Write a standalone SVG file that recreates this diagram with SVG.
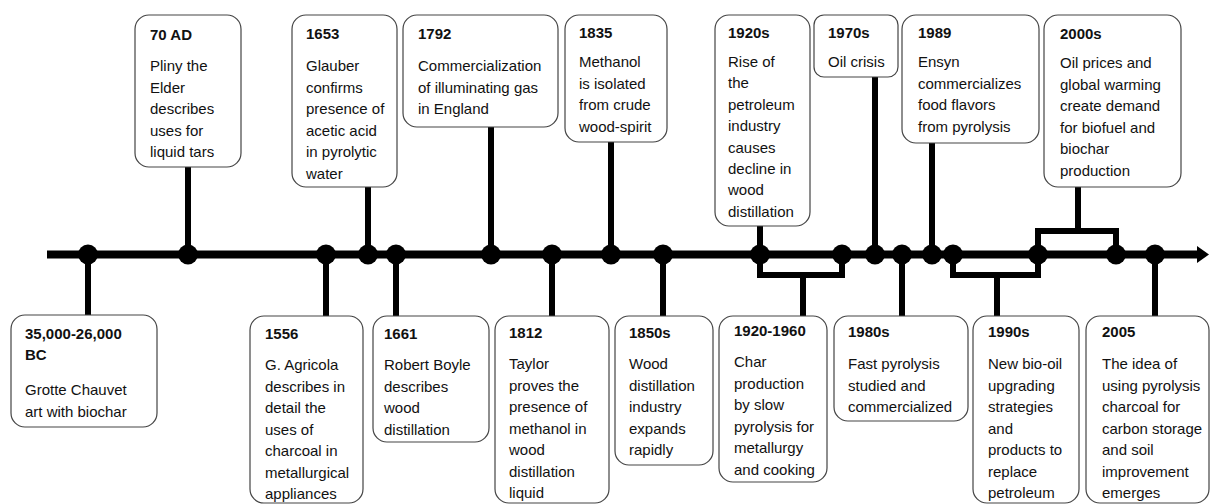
<svg xmlns="http://www.w3.org/2000/svg" width="1211" height="504" viewBox="0 0 1211 504">
<style>
.box{fill:#fff;stroke:#444;stroke-width:1.2}
.t{font-family:"Liberation Sans",Arial,sans-serif;font-size:15px;font-weight:bold;fill:#111}
.b{font-family:"Liberation Sans",Arial,sans-serif;font-size:15px;fill:#111}
.c{fill:none;stroke:#000;stroke-width:6;stroke-linejoin:miter}
.dot{fill:#000}
</style>
<rect width="1211" height="504" fill="#fff"/>
<g id="connectors">
  <line x1="47" y1="254.5" x2="1200" y2="254.5" stroke="#000" stroke-width="8"/>
  <polygon points="1197,246 1209,254.5 1197,263" fill="#000"/>
  <!-- top -->
  <path class="c" d="M188,167V254"/>
  <path class="c" d="M368,187V254"/>
  <path class="c" d="M491,127V254"/>
  <path class="c" d="M611,142V254"/>
  <path class="c" d="M760,226V254"/>
  <path class="c" d="M875,77V254"/>
  <path class="c" d="M932,143V254"/>
  <path class="c" d="M1078,187V231"/>
  <path class="c" d="M1038,254V231H1116V254"/>
  <!-- bottom -->
  <path class="c" d="M88,254V316"/>
  <path class="c" d="M326,254V316"/>
  <path class="c" d="M396,254V316"/>
  <path class="c" d="M552,254V316"/>
  <path class="c" d="M663,254V316"/>
  <path class="c" d="M760,254V275H842V254"/>
  <path class="c" d="M803,275V316"/>
  <path class="c" d="M902,254V316"/>
  <path class="c" d="M953,254V275H1038V254"/>
  <path class="c" d="M997,275V316"/>
  <path class="c" d="M1155,254V316"/>
  <!-- dots -->
  <circle class="dot" cx="88" cy="254.5" r="10"/>
  <circle class="dot" cx="188" cy="254.5" r="10"/>
  <circle class="dot" cx="326" cy="254.5" r="10"/>
  <circle class="dot" cx="368" cy="254.5" r="10"/>
  <circle class="dot" cx="396" cy="254.5" r="10"/>
  <circle class="dot" cx="491" cy="254.5" r="10"/>
  <circle class="dot" cx="552" cy="254.5" r="10"/>
  <circle class="dot" cx="611" cy="254.5" r="10"/>
  <circle class="dot" cx="663" cy="254.5" r="10"/>
  <circle class="dot" cx="760" cy="254.5" r="10"/>
  <circle class="dot" cx="842" cy="254.5" r="10"/>
  <circle class="dot" cx="875" cy="254.5" r="10"/>
  <circle class="dot" cx="902" cy="254.5" r="10"/>
  <circle class="dot" cx="932" cy="254.5" r="10"/>
  <circle class="dot" cx="953" cy="254.5" r="10"/>
  <circle class="dot" cx="1038" cy="254.5" r="10"/>
  <circle class="dot" cx="1116" cy="254.5" r="10"/>
  <circle class="dot" cx="1155" cy="254.5" r="10"/>
</g>
<!-- top boxes -->
<g id="n70ad">
  <rect class="box" x="135" y="15" width="106" height="152" rx="14"/>
  <text class="t" x="150" y="40">70 AD</text>
  <text class="b" x="150" y="71"><tspan x="150">Pliny the</tspan><tspan x="150" dy="21.5">Elder</tspan><tspan x="150" dy="21.5">describes</tspan><tspan x="150" dy="21.5">uses for</tspan><tspan x="150" dy="21.5">liquid tars</tspan></text>
</g>
<g id="n1653">
  <rect class="box" x="292" y="15" width="105" height="172" rx="14"/>
  <text class="t" x="306" y="39">1653</text>
  <text class="b" x="306" y="71"><tspan x="306">Glauber</tspan><tspan x="306" dy="21.5">confirms</tspan><tspan x="306" dy="21.5">presence of</tspan><tspan x="306" dy="21.5">acetic acid</tspan><tspan x="306" dy="21.5">in pyrolytic</tspan><tspan x="306" dy="21.5">water</tspan></text>
</g>
<g id="n1792">
  <rect class="box" x="403" y="15" width="155" height="112" rx="14"/>
  <text class="t" x="418" y="39">1792</text>
  <text class="b" x="418" y="71"><tspan x="418">Commercialization</tspan><tspan x="418" dy="21.5">of illuminating gas</tspan><tspan x="418" dy="21.5">in England</tspan></text>
</g>
<g id="n1835">
  <rect class="box" x="565" y="15" width="102" height="127" rx="14"/>
  <text class="t" x="579" y="38">1835</text>
  <text class="b" x="579" y="67"><tspan x="579">Methanol</tspan><tspan x="579" dy="21.5">is isolated</tspan><tspan x="579" dy="21.5">from crude</tspan><tspan x="579" dy="21.5">wood-spirit</tspan></text>
</g>
<g id="n1920s">
  <rect class="box" x="715" y="15" width="95" height="211" rx="14"/>
  <text class="t" x="728" y="38">1920s</text>
  <text class="b" x="728" y="67"><tspan x="728">Rise of</tspan><tspan x="728" dy="21.4">the</tspan><tspan x="728" dy="21.4">petroleum</tspan><tspan x="728" dy="21.4">industry</tspan><tspan x="728" dy="21.4">causes</tspan><tspan x="728" dy="21.4">decline in</tspan><tspan x="728" dy="21.4">wood</tspan><tspan x="728" dy="21.4">distillation</tspan></text>
</g>
<g id="n1970s">
  <rect class="box" x="814" y="15" width="84" height="62" rx="10"/>
  <text class="t" x="828" y="38">1970s</text>
  <text class="b" x="828" y="67">Oil crisis</text>
</g>
<g id="n1989">
  <rect class="box" x="902" y="15" width="137" height="128" rx="14"/>
  <text class="t" x="918" y="38">1989</text>
  <text class="b" x="918" y="67"><tspan x="918">Ensyn</tspan><tspan x="918" dy="21.5">commercializes</tspan><tspan x="918" dy="21.5">food flavors</tspan><tspan x="918" dy="21.5">from pyrolysis</tspan></text>
</g>
<g id="n2000s">
  <rect class="box" x="1044" y="15" width="137" height="172" rx="14"/>
  <text class="t" x="1060" y="39">2000s</text>
  <text class="b" x="1060" y="68"><tspan x="1060">Oil prices and</tspan><tspan x="1060" dy="21.5">global warming</tspan><tspan x="1060" dy="21.5">create demand</tspan><tspan x="1060" dy="21.5">for biofuel and</tspan><tspan x="1060" dy="21.5">biochar</tspan><tspan x="1060" dy="21.5">production</tspan></text>
</g>
<!-- bottom boxes -->
<g id="n35000bc">
  <rect class="box" x="11" y="315" width="146" height="112" rx="14"/>
  <text class="t" x="25" y="339"><tspan x="25">35,000-26,000</tspan><tspan x="25" dy="21">BC</tspan></text>
  <text class="b" x="25" y="395"><tspan x="25">Grotte Chauvet</tspan><tspan x="25" dy="21.5">art with biochar</tspan></text>
</g>
<g id="n1556">
  <rect class="box" x="250" y="316" width="113" height="187" rx="14"/>
  <text class="t" x="265" y="339">1556</text>
  <text class="b" x="265" y="370"><tspan x="265">G. Agricola</tspan><tspan x="265" dy="21.5">describes in</tspan><tspan x="265" dy="21.5">detail the</tspan><tspan x="265" dy="21.5">uses of</tspan><tspan x="265" dy="21.5">charcoal in</tspan><tspan x="265" dy="21.5">metallurgical</tspan><tspan x="265" dy="21.5">appliances</tspan></text>
</g>
<g id="n1661">
  <rect class="box" x="373" y="316" width="116" height="126" rx="14"/>
  <text class="t" x="384" y="339">1661</text>
  <text class="b" x="384" y="370"><tspan x="384">Robert Boyle</tspan><tspan x="384" dy="21.5">describes</tspan><tspan x="384" dy="21.5">wood</tspan><tspan x="384" dy="21.5">distillation</tspan></text>
</g>
<g id="n1812">
  <rect class="box" x="495" y="316" width="114" height="187" rx="14"/>
  <text class="t" x="509" y="338">1812</text>
  <text class="b" x="509" y="369"><tspan x="509">Taylor</tspan><tspan x="509" dy="21.5">proves the</tspan><tspan x="509" dy="21.5">presence of</tspan><tspan x="509" dy="21.5">methanol in</tspan><tspan x="509" dy="21.5">wood</tspan><tspan x="509" dy="21.5">distillation</tspan><tspan x="509" dy="21.5">liquid</tspan></text>
</g>
<g id="n1850s">
  <rect class="box" x="615" y="316" width="98" height="149" rx="14"/>
  <text class="t" x="629" y="338">1850s</text>
  <text class="b" x="629" y="369"><tspan x="629">Wood</tspan><tspan x="629" dy="21.5">distillation</tspan><tspan x="629" dy="21.5">industry</tspan><tspan x="629" dy="21.5">expands</tspan><tspan x="629" dy="21.5">rapidly</tspan></text>
</g>
<g id="n1920-1960">
  <rect class="box" x="719" y="316" width="108" height="166" rx="14"/>
  <text class="t" x="734" y="336">1920-1960</text>
  <text class="b" x="734" y="367"><tspan x="734">Char</tspan><tspan x="734" dy="21.5">production</tspan><tspan x="734" dy="21.5">by slow</tspan><tspan x="734" dy="21.5">pyrolysis for</tspan><tspan x="734" dy="21.5">metallurgy</tspan><tspan x="734" dy="21.5">and cooking</tspan></text>
</g>
<g id="n1980s">
  <rect class="box" x="834" y="316" width="134" height="105" rx="14"/>
  <text class="t" x="848" y="337">1980s</text>
  <text class="b" x="848" y="369"><tspan x="848">Fast pyrolysis</tspan><tspan x="848" dy="21.5">studied and</tspan><tspan x="848" dy="21.5">commercialized</tspan></text>
</g>
<g id="n1990s">
  <rect class="box" x="973" y="316" width="106" height="187" rx="14"/>
  <text class="t" x="988" y="337">1990s</text>
  <text class="b" x="988" y="369"><tspan x="988">New bio-oil</tspan><tspan x="988" dy="21.5">upgrading</tspan><tspan x="988" dy="21.5">strategies</tspan><tspan x="988" dy="21.5">and</tspan><tspan x="988" dy="21.5">products to</tspan><tspan x="988" dy="21.5">replace</tspan><tspan x="988" dy="21.5">petroleum</tspan></text>
</g>
<g id="n2005">
  <rect class="box" x="1086" y="316" width="123" height="187" rx="14"/>
  <text class="t" x="1102" y="337">2005</text>
  <text class="b" x="1102" y="369"><tspan x="1102">The idea of</tspan><tspan x="1102" dy="21.5">using pyrolysis</tspan><tspan x="1102" dy="21.5">charcoal for</tspan><tspan x="1102" dy="21.5">carbon storage</tspan><tspan x="1102" dy="21.5">and soil</tspan><tspan x="1102" dy="21.5">improvement</tspan><tspan x="1102" dy="21.5">emerges</tspan></text>
</g>
</svg>
